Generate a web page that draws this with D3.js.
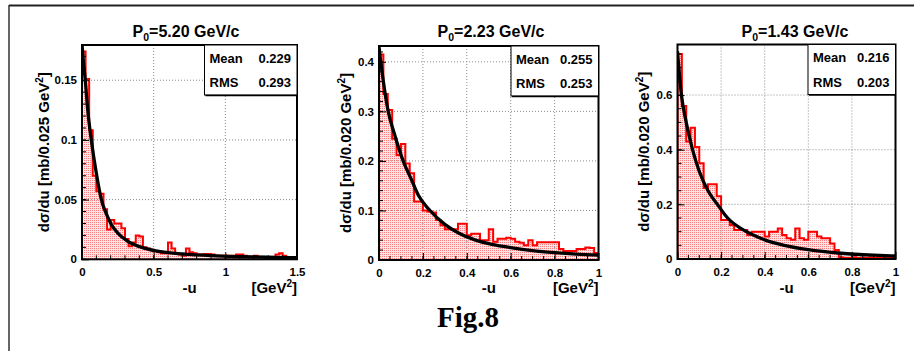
<!DOCTYPE html>
<html>
<head>
<meta charset="utf-8">
<script src="https://cdn.jsdelivr.net/npm/d3@7"></script>
<style>
  body { margin: 0; background: #fff; }
  svg text { font-family: "Liberation Sans", Arial, sans-serif; font-weight: bold; fill: #000; }
</style>
</head>
<body>
<svg id="fig" width="914" height="351"></svg>
<script>
// bin contents
const p1Values = [0.174, 0.151, 0.108, 0.070, 0.057, 0.055, 0.042, 0.025, 0.033, 0.030,
                  0.030, 0.026, 0.017, 0.011, 0.014, 0.020, 0.019, 0.010, 0.009, 0.008,
                  0.007, 0.006, 0.005, 0.005, 0.014, 0.009, 0.005, 0.004, 0.003, 0.009,
                  0.006, 0.005, 0.004, 0.004, 0.0045, 0.0045, 0.004, 0.003, 0.003, 0.003,
                  0.003, 0.003, 0.003, 0.004, 0.004, 0.003, 0.002, 0.002, 0.003, 0.002,
                  0.002, 0.002, 0.002, 0.002, 0.004, 0.005, 0.003, 0.001, 0.001, 0.001];
const p2Values = [0.415, 0.335, 0.303, 0.245, 0.212, 0.234, 0.195, 0.175, 0.118, 0.118,
                  0.100, 0.098, 0.096, 0.081, 0.070, 0.062, 0.062, 0.062, 0.073, 0.073,
                  0.050, 0.053, 0.053, 0.040, 0.040, 0.062, 0.037, 0.043, 0.043, 0.045,
                  0.043, 0.037, 0.035, 0.030, 0.040, 0.030, 0.036, 0.036, 0.036, 0.036,
                  0.036, 0.022, 0.018, 0.018, 0.018, 0.022, 0.022, 0.025, 0.024, 0.014];
const p3Values = [0.750, 0.560, 0.430, 0.480, 0.410, 0.350, 0.260, 0.274, 0.274, 0.230,
                  0.143, 0.143, 0.124, 0.106, 0.106, 0.106, 0.088, 0.100, 0.100, 0.100,
                  0.082, 0.100, 0.100, 0.112, 0.088, 0.076, 0.070, 0.112, 0.076, 0.070,
                  0.100, 0.100, 0.082, 0.076, 0.076, 0.057, 0.033, 0.006, 0.005, 0.005,
                  0.006, 0.004, 0.005, 0.004, 0.006, 0.005, 0.006, 0.005, 0.004, 0.005];

// fitted curves
const p1FitU = [0, 0.01, 0.023, 0.04, 0.065, 0.1, 0.135, 0.17, 0.205, 0.25, 0.32, 0.44, 0.55, 0.7, 0.9, 1.1, 1.3, 1.5];
const p1FitV = [0.18, 0.165, 0.15, 0.125, 0.1, 0.072, 0.05, 0.038, 0.029, 0.022, 0.015, 0.0092, 0.0064, 0.0045, 0.003, 0.0022, 0.0017, 0.0013];
const p2FitU = [0, 0.02, 0.042, 0.07, 0.11, 0.15, 0.18, 0.232, 0.3, 0.36, 0.44, 0.52, 0.6, 0.7, 0.8, 0.9, 1.0];
const p2FitV = [0.43, 0.36, 0.3, 0.255, 0.2, 0.16, 0.13, 0.1, 0.072, 0.055, 0.04, 0.031, 0.025, 0.019, 0.015, 0.012, 0.01];
const p3FitU = [0, 0.018, 0.04, 0.069, 0.1, 0.14, 0.183, 0.23, 0.29, 0.35, 0.4, 0.49, 0.6, 0.75, 0.9, 1.0];
const p3FitV = [0.76, 0.6, 0.5, 0.4, 0.32, 0.25, 0.2, 0.15, 0.112, 0.087, 0.07, 0.05, 0.034, 0.021, 0.014, 0.011];

// axis ticks and labels
const p1XTicks = [0, 0.5, 1, 1.5];
const p1XLabels = ["0", "0.5", "1", "1.5"];
const p1YTicks = [0, 0.05, 0.1, 0.15];
const p1YLabels = ["0", "0.05", "0.1", "0.15"];
const p2XTicks = [0, 0.2, 0.4, 0.6, 0.8, 1];
const p2XLabels = ["0", "0.2", "0.4", "0.6", "0.8", "1"];
const p2YTicks = [0, 0.1, 0.2, 0.3, 0.4];
const p2YLabels = ["0", "0.1", "0.2", "0.3", "0.4"];
const p3XTicks = [0, 0.2, 0.4, 0.6, 0.8, 1];
const p3XLabels = ["0", "0.2", "0.4", "0.6", "0.8", "1"];
const p3YTicks = [0, 0.2, 0.4, 0.6];
const p3YLabels = ["0", "0.2", "0.4", "0.6"];

// titles and stats
const momenta = ["5.20", "2.23", "1.43"];
const binLabels = ["0.025", "0.020", "0.020"];
const means = ["0.229", "0.255", "0.216"];
const rmsValues = ["0.293", "0.253", "0.203"];

const svg = d3.select("#fig");

// outer page frame
svg.append("line").attr("x1", 9).attr("x2", 914).attr("y1", 5.5).attr("y2", 5.5)
    .attr("stroke", "#222").attr("stroke-width", 2);
svg.append("line").attr("x1", 9).attr("x2", 9).attr("y1", 5).attr("y2", 351)
    .attr("stroke", "#333").attr("stroke-width", 1.5);

// ROOT style fill pattern (light red dots)
const defs = svg.append("defs");
const pat = defs.append("pattern").attr("id", "dots")
    .attr("width", 2).attr("height", 2).attr("patternUnits", "userSpaceOnUse");
pat.append("rect").attr("width", 2).attr("height", 2).attr("fill", "#fde3e3");
pat.append("rect").attr("width", 1).attr("height", 1).attr("fill", "#f77f7f");

const panels = [
  { values: p1Values, bin: 0.025, fitU: p1FitU, fitV: p1FitV,
    xMax: 1.5, yMax: 0.1795, xMinor: 0.1, yMinor: 0.01,
    xTicks: p1XTicks, xLabels: p1XLabels, yTicks: p1YTicks, yLabels: p1YLabels,
    frame: [82, 297, 45, 259.3], titleX: 186, yTitleX: 49 },
  { values: p2Values, bin: 0.02, fitU: p2FitU, fitV: p2FitV,
    xMax: 1, yMax: 0.432, xMinor: 0.05, yMinor: 0.02,
    xTicks: p2XTicks, xLabels: p2XLabels, yTicks: p2YTicks, yLabels: p2YLabels,
    frame: [379, 598.5, 46, 260], titleX: 491, yTitleX: 351 },
  { values: p3Values, bin: 0.02, fitU: p3FitU, fitV: p3FitV,
    xMax: 1, yMax: 0.785, xMinor: 0.05, yMinor: 0.05,
    xTicks: p3XTicks, xLabels: p3XLabels, yTicks: p3YTicks, yLabels: p3YLabels,
    frame: [677.5, 895.5, 44.5, 259], titleX: 795, yTitleX: 649 }
];

panels.forEach((p, k) => {
  const [fx0, fx1, fy0, fy1] = p.frame;
  const x = d3.scaleLinear().domain([0, p.xMax]).range([fx0, fx1]);
  const y = d3.scaleLinear().domain([0, p.yMax]).range([fy1, fy0]);
  const g = svg.append("g");

  defs.append("clipPath").attr("id", "clip" + k)
    .append("rect").attr("x", fx0).attr("y", fy0).attr("width", fx1 - fx0).attr("height", fy1 - fy0);

  // histogram as a step outline
  const pts = [[0, 0]];
  p.values.forEach((v, i) => { pts.push([i * p.bin, v]); pts.push([(i + 1) * p.bin, v]); });
  pts.push([p.values.length * p.bin, 0]);
  const step = d3.line().x(d => x(d[0])).y(d => y(d[1]));
  g.append("path").attr("d", step(pts) + "Z")
      .attr("fill", "url(#dots)").attr("stroke", "none")
      .attr("clip-path", "url(#clip" + k + ")");

  // dotted grid on the major ticks (shows through the fill)
  const grid = g.append("g").attr("stroke", "#8a8a8a").attr("stroke-width", 1).attr("stroke-dasharray", "1,2");
  grid.selectAll(".gx").data(p.xTicks.filter(t => t > 0 && t < p.xMax)).join("line")
      .attr("x1", d => x(d)).attr("x2", d => x(d)).attr("y1", fy0).attr("y2", fy1);
  grid.selectAll(".gy").data(p.yTicks.filter(t => t > 0)).join("line")
      .attr("x1", fx0).attr("x2", fx1).attr("y1", d => y(d)).attr("y2", d => y(d));

  g.append("path").attr("d", step(pts))
      .attr("fill", "none").attr("stroke", "#ff0000").attr("stroke-width", 2)
      .attr("clip-path", "url(#clip" + k + ")");

  // fit curve
  const fit = p.fitU.map((u, i) => [u, p.fitV[i]]);
  g.append("path").attr("d", d3.line().x(d => x(d[0])).y(d => y(d[1])).curve(d3.curveMonotoneX)(fit))
      .attr("fill", "none").attr("stroke", "#000").attr("stroke-width", 3.3)
      .attr("clip-path", "url(#clip" + k + ")");

  // axes with inside ticks
  const xAxis = d3.axisBottom(x).tickValues(p.xTicks).tickFormat((d, i) => p.xLabels[i])
      .tickSizeInner(-7).tickSizeOuter(0).tickPadding(9);
  const ax = g.append("g").attr("transform", `translate(0,${fy1})`).call(xAxis);
  ax.select(".domain").remove();
  ax.selectAll("text").attr("font-size", 11.5).attr("font-family", null);
  g.append("g").attr("stroke", "#000").selectAll("line")
      .data(d3.range(0, p.xMax + 1e-9, p.xMinor)).join("line")
      .attr("x1", d => x(d)).attr("x2", d => x(d)).attr("y1", fy1).attr("y2", fy1 - 4);

  const yAxis = d3.axisLeft(y).tickValues(p.yTicks).tickFormat((d, i) => p.yLabels[i])
      .tickSizeInner(-7).tickSizeOuter(0).tickPadding(5);
  const ay = g.append("g").attr("transform", `translate(${fx0},0)`).call(yAxis);
  ay.select(".domain").remove();
  ay.selectAll("text").attr("font-size", 11.5).attr("font-family", null);
  g.append("g").attr("stroke", "#000").selectAll("line")
      .data(d3.range(0, p.yMax, p.yMinor)).join("line")
      .attr("x1", fx0).attr("x2", fx0 + 4).attr("y1", d => y(d)).attr("y2", d => y(d));

  // frame
  g.append("rect").attr("x", fx0).attr("y", fy0).attr("width", fx1 - fx0).attr("height", fy1 - fy0)
      .attr("fill", "none").attr("stroke", "#000").attr("stroke-width", 2);

  // stats box
  const bx0 = fx1 - (k === 0 ? 92.5 : 87.5), by1 = fy0 + 50;
  g.append("rect").attr("x", bx0).attr("y", fy0).attr("width", fx1 - bx0).attr("height", by1 - fy0)
      .attr("fill", "#fff").attr("stroke", "#000").attr("stroke-width", 1);
  g.append("line").attr("x1", bx0 + 1).attr("x2", fx1).attr("y1", by1 + 0.5).attr("y2", by1 + 0.5)
      .attr("stroke", "#000").attr("stroke-width", 1.5);
  const rows = [["Mean", means[k]], ["RMS", rmsValues[k]]];
  rows.forEach((r, i) => {
    g.append("text").attr("x", bx0 + 5).attr("y", fy0 + 17.5 + i * 24.5).attr("font-size", 13).text(r[0]);
    g.append("text").attr("x", fx1 - 6).attr("y", fy0 + 17.5 + i * 24.5).attr("font-size", 13)
        .attr("text-anchor", "end").text(r[1]);
  });

  // pad title
  const t = g.append("text").attr("x", p.titleX).attr("y", 36.5).attr("text-anchor", "middle").attr("font-size", 16);
  t.append("tspan").text("P");
  t.append("tspan").attr("font-size", 10.5).attr("dy", 4).text("0");
  t.append("tspan").attr("dy", -4).text("=" + momenta[k] + " GeV/c");

  // x title
  g.append("text").attr("x", (fx0 + fx1) / 2).attr("y", 293).attr("text-anchor", "middle")
      .attr("font-size", 15).text("-u");
  const xt = g.append("text").attr("x", fx1).attr("y", 293).attr("text-anchor", "end").attr("font-size", 15);
  xt.append("tspan").text("[GeV");
  xt.append("tspan").attr("font-size", 10).attr("dy", -6).text("2");
  xt.append("tspan").attr("dy", 6).text("]");

  // y title
  const yt = g.append("text").attr("transform", `translate(${p.yTitleX},${(fy0 + fy1) / 2}) rotate(-90)`)
      .attr("text-anchor", "middle").attr("font-size", 15);
  yt.append("tspan").text("dσ/du [mb/" + binLabels[k] + " GeV");
  yt.append("tspan").attr("font-size", 10).attr("dy", -6).text("2");
  yt.append("tspan").attr("dy", 6).text("]");
});

svg.append("text").attr("x", 468).attr("y", 327).attr("text-anchor", "middle")
    .style("font-family", '"Liberation Serif", "Times New Roman", serif')
    .attr("font-size", 29).text("Fig.8");
</script>
</body>
</html>
